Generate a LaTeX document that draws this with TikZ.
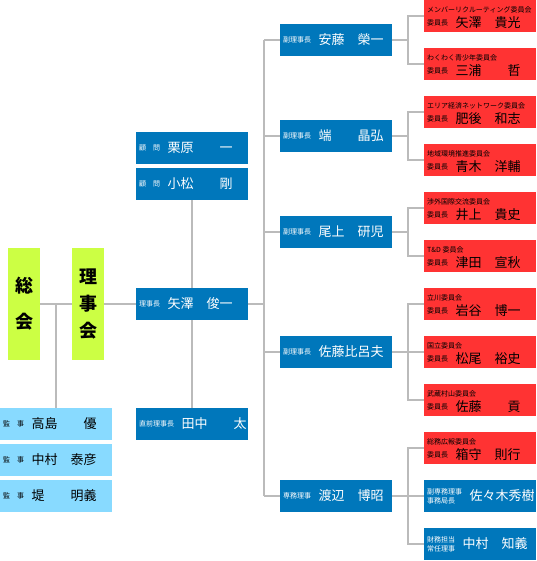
\documentclass[tikz,border=0pt]{standalone}
\usepackage{fontspec}
\newfontfamily\jp{Noto Sans CJK JP}
\usetikzlibrary{calc,backgrounds}
\definecolor{orgblue}{RGB}{0,119,187}
\definecolor{orgred}{RGB}{255,51,51}
\definecolor{orglb}{RGB}{136,218,255}
\definecolor{orglime}{RGB}{204,255,68}
\definecolor{lingray}{RGB}{187,187,187}
\newcommand\orgpair[4]{%
  \node[lbl,text=#4] (#1-l) at ($(#1.west)+(3,0)$) {#2};
  \node[nm,text=#4] (#1-n) at ($(#1-l.east)+(7,0)$) {#3};}
\newcommand\orgcomm[3]{%
  \node[lbl] (#1-c) at ($(#1.north west)+(3,10)$) {#2};
  \node[lbl] (#1-l) at ($(#1.north west)+(3,22.5)$) {委員長};
  \node[nm] (#1-n) at ($(#1-l.east)+(7,0)$) {#3};}
\begin{document}
\begin{tikzpicture}[x=1pt,y=-1pt,font=\jp,
  basebox/.style={inner sep=0pt,outer sep=0pt,minimum width=112pt,minimum height=32pt,anchor=north west},
  bluebox/.style={basebox,fill=orgblue},
  redbox/.style={basebox,fill=orgred},
  lbbox/.style={basebox,fill=orglb},
  limebox/.style={inner sep=0pt,outer sep=0pt,minimum width=32pt,minimum height=112pt,anchor=north west,fill=orglime},
  lbl/.style={font=\jp\fontsize{7}{9}\selectfont,inner sep=0pt,anchor=west,align=left},
  nm/.style={font=\jp\fontsize{13}{15}\selectfont,inner sep=0pt,anchor=west},
  big/.style={font=\jp\bfseries\fontsize{18}{20}\selectfont,inner sep=0pt},
  conn/.style={draw=lingray,line width=1.5pt}]
\useasboundingbox (0,0) rectangle (536,561);
% general assembly / board
\node[limebox] (sokai) at (8,248) {};
\node[limebox] (rijikai) at (72,248) {};
\node[big] (so1) at (24,286) {総};
\node[big] (so2) at (24,322) {会};
\node[big] (ri1) at (88,277) {理};
\node[big] (ri2) at (88,304) {事};
\node[big] (ri3) at (88,331) {会};
% left column
\node[bluebox] (kurihara) at (136,132) {};
\node[bluebox] (komatsu) at (136,168) {};
\node[bluebox] (yazawa) at (136,288) {};
\node[bluebox] (tanaka) at (136,408) {};
\orgpair{kurihara}{顧　問}{栗原　　一}{white}
\orgpair{komatsu}{顧　問}{小松　　剛}{white}
\orgpair{yazawa}{理事長}{矢澤　俊一}{white}
\orgpair{tanaka}{直前理事長}{田中　　太}{white}
% auditors
\node[lbbox] (k1) at (0,408) {};
\node[lbbox] (k2) at (0,444) {};
\node[lbbox] (k3) at (0,480) {};
\orgpair{k1}{監　事}{高島　　優}{black}
\orgpair{k2}{監　事}{中村　泰彦}{black}
\orgpair{k3}{監　事}{堤　　明義}{black}
% middle column
\node[bluebox] (ando) at (280,24) {};
\node[bluebox] (hashi) at (280,120) {};
\node[bluebox] (ogami) at (280,216) {};
\node[bluebox] (sato) at (280,336) {};
\node[bluebox] (watanabe) at (280,480) {};
\orgpair{ando}{副理事長}{安藤　榮一}{white}
\orgpair{hashi}{副理事長}{端　　晶弘}{white}
\orgpair{ogami}{副理事長}{尾上　研児}{white}
\orgpair{sato}{副理事長}{佐藤比呂夫}{white}
\orgpair{watanabe}{専務理事}{渡辺　博昭}{white}
% right column
\node[redbox] (r1) at (424,0) {};
\node[redbox] (r2) at (424,48) {};
\node[redbox] (r3) at (424,96) {};
\node[redbox] (r4) at (424,144) {};
\node[redbox] (r5) at (424,192) {};
\node[redbox] (r6) at (424,240) {};
\node[redbox] (r7) at (424,288) {};
\node[redbox] (r8) at (424,336) {};
\node[redbox] (r9) at (424,384) {};
\node[redbox] (r10) at (424,432) {};
\node[bluebox] (r11) at (424,480) {};
\node[bluebox] (r12) at (424,528) {};
\orgcomm{r1}{メンバーリクルーティング委員会}{矢澤　貴光}
\orgcomm{r2}{わくわく青少年委員会}{三浦　　哲}
\orgcomm{r3}{エリア経済ネットワーク委員会}{肥後　和志}
\orgcomm{r4}{地域環境推進委員会}{青木　洋輔}
\orgcomm{r5}{渉外国際交流委員会}{井上　貴史}
\orgcomm{r6}{T\&D 委員会}{津田　宣秋}
\orgcomm{r7}{立川委員会}{岩谷　博一}
\orgcomm{r8}{国立委員会}{松尾　裕史}
\orgcomm{r9}{武蔵村山委員会}{佐藤　　貢}
\orgcomm{r10}{総務広報委員会}{箱守　則行}
\orgpair{r11}{副専務理事\\事務局長}{佐々木秀樹}{white}
\orgpair{r12}{財務担当\\常任理事}{中村　知義}{white}
% connectors
\coordinate (kj) at (56,304);
\coordinate (trunk) at (264,0);
\coordinate (br) at (408,0);
\begin{scope}[on background layer]
\draw[conn] (sokai.east) -- (rijikai.west);
\draw[conn] (kj) -- (k1.north -| kj);
\draw[conn] (rijikai.east) -- (yazawa.west);
\draw[conn] (komatsu.south) -- (tanaka.north);
\draw[conn] (yazawa.east) -- (yazawa.east -| trunk);
\draw[conn] (ando.west -| trunk) -- (watanabe.west -| trunk);
\foreach \m in {ando,hashi,ogami,sato,watanabe}
  \draw[conn] (\m.west -| trunk) -- (\m.west);
\draw[conn] (ando.east) -- (ando.east -| br);
\draw[conn] (r1.west) -- (r1.west -| br) -- (r2.west -| br) -- (r2.west);
\draw[conn] (hashi.east) -- (hashi.east -| br);
\draw[conn] (r3.west) -- (r3.west -| br) -- (r4.west -| br) -- (r4.west);
\draw[conn] (ogami.east) -- (ogami.east -| br);
\draw[conn] (r5.west) -- (r5.west -| br) -- (r6.west -| br) -- (r6.west);
\draw[conn] (sato.east) -- (sato.east -| br);
\draw[conn] (r7.west) -- (r7.west -| br) -- (r9.west -| br) -- (r9.west);
\draw[conn] (r8.west -| br) -- (r8.west);
\draw[conn] (watanabe.east) -- (watanabe.east -| br);
\draw[conn] (r10.west) -- (r10.west -| br) -- (r12.west -| br) -- (r12.west);
\draw[conn] (r11.west -| br) -- (r11.west);
\end{scope}
\end{tikzpicture}
\end{document}
